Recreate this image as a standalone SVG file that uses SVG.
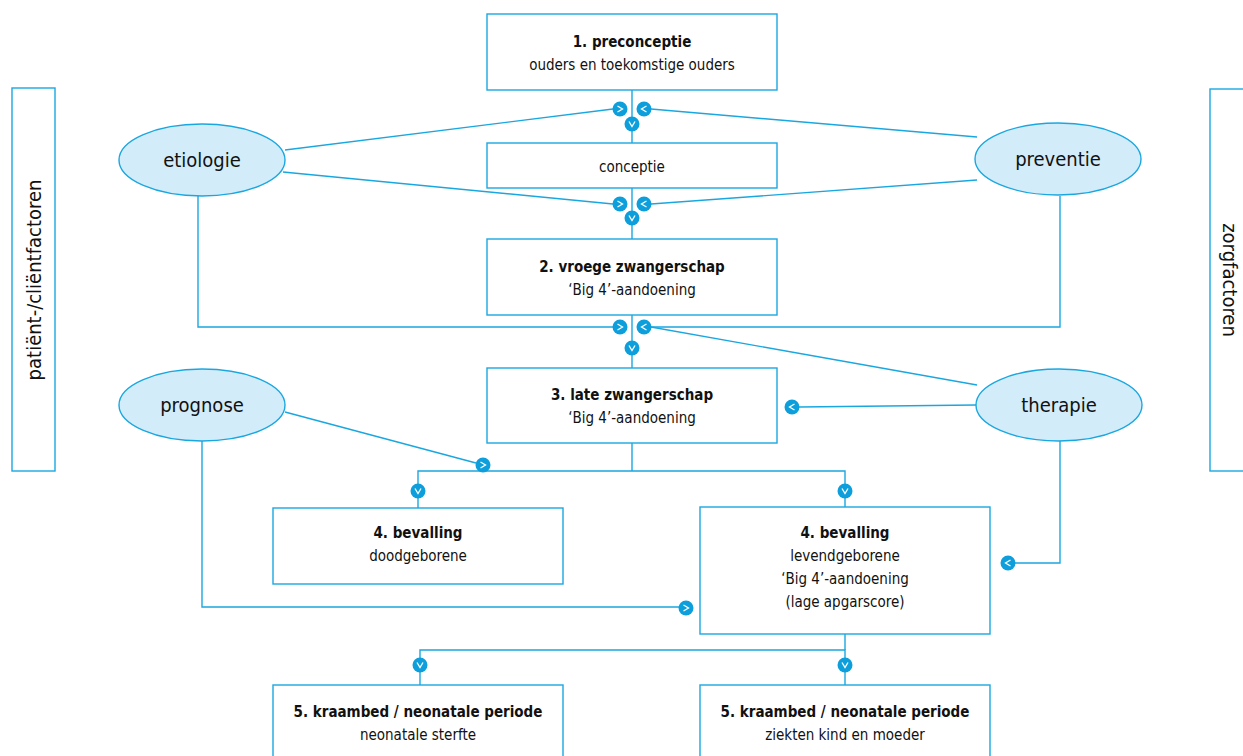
<svg xmlns="http://www.w3.org/2000/svg" xmlns:xlink="http://www.w3.org/1999/xlink" width="1243" height="756" viewBox="0 0 1243 756">
<style>
.box{fill:#fff;stroke:#1aa7e0;stroke-width:1.4}
.ell{fill:#d2ecf9;stroke:#1aa7e0;stroke-width:1.4}
.ln{fill:none;stroke:#1aa7e0;stroke-width:1.4}
text{font-family:"DejaVu Sans Condensed","Liberation Sans Narrow","Liberation Sans",sans-serif;fill:#111;text-anchor:middle}
.t{font-size:15px;font-weight:bold}
.s{font-size:15px}
.e{font-size:20px}
.side{font-size:20px}
.dot{fill:#0d9fdc}
.chev{fill:none;stroke:#fff;stroke-width:1.3}
</style>
<defs>
<g id="ar"><circle class="dot" r="7.5"/><polyline class="chev" points="-2.5,-3 2.5,0 -2.5,3"/></g>
<g id="al"><circle class="dot" r="7.5"/><polyline class="chev" points="2.5,-3 -2.5,0 2.5,3"/></g>
<g id="ad"><circle class="dot" r="7.5"/><polyline class="chev" points="-3,-2.5 0,2.5 3,-2.5"/></g>
</defs>

<g id="connectors">
<line class="ln" x1="632" y1="90" x2="632" y2="143"/>
<line class="ln" x1="285" y1="150" x2="613" y2="109"/>
<line class="ln" x1="977" y1="137" x2="651" y2="109"/>
<line class="ln" x1="632" y1="188" x2="632" y2="239"/>
<line class="ln" x1="283" y1="172" x2="613" y2="204"/>
<line class="ln" x1="977" y1="180" x2="651" y2="204"/>
<line class="ln" x1="632" y1="315" x2="632" y2="368"/>
<polyline class="ln" points="198,196 198,327 613,327"/>
<polyline class="ln" points="1060,196 1060,327 651,327"/>
<line class="ln" x1="977" y1="385" x2="651" y2="327"/>
<line class="ln" x1="976" y1="405" x2="799" y2="407"/>
<polyline class="ln" points="632,443 632,471"/>
<polyline class="ln" points="418,508 418,471 845,471 845,507"/>
<line class="ln" x1="285" y1="412" x2="476" y2="463"/>
<polyline class="ln" points="202,441 202,607 679,607"/>
<polyline class="ln" points="1060,441 1060,563 1015,563"/>
<line class="ln" x1="845" y1="634" x2="845" y2="650"/>
<polyline class="ln" points="420,685 420,650 845,650 845,685"/>
<use xlink:href="#ar" x="620" y="109"/>
<use xlink:href="#al" x="644" y="109"/>
<use xlink:href="#ad" x="632" y="124"/>
<use xlink:href="#ar" x="620" y="204"/>
<use xlink:href="#al" x="644" y="204"/>
<use xlink:href="#ad" x="632" y="218"/>
<use xlink:href="#ar" x="620" y="327"/>
<use xlink:href="#al" x="644" y="327"/>
<use xlink:href="#ad" x="632" y="348"/>
<use xlink:href="#al" x="792" y="407"/>
<use xlink:href="#ar" x="483" y="465"/>
<use xlink:href="#ad" x="418" y="491"/>
<use xlink:href="#ad" x="845" y="491"/>
<use xlink:href="#ar" x="686" y="608"/>
<use xlink:href="#al" x="1008" y="563"/>
<use xlink:href="#ad" x="420" y="665"/>
<use xlink:href="#ad" x="845" y="665"/>
</g>

<g id="side-left"><rect class="box" x="12" y="88" width="43" height="383"/><text class="side" transform="translate(41,280) rotate(-90)">patiënt-/cliëntfactoren</text></g>
<g id="side-right"><rect class="box" x="1210" y="89" width="43" height="382"/><text class="side" transform="translate(1223,280) rotate(90)">zorgfactoren</text></g>

<g id="n1"><rect class="box" x="487" y="14" width="290" height="76"/><text class="t" x="632" y="47">1. preconceptie</text><text class="s" x="632" y="70">ouders en toekomstige ouders</text></g>
<g id="nc"><rect class="box" x="487" y="143" width="290" height="45"/><text class="s" x="632" y="172">conceptie</text></g>
<g id="n2"><rect class="box" x="487" y="239" width="290" height="76"/><text class="t" x="632" y="272">2. vroege zwangerschap</text><text class="s" x="632" y="295">‘Big 4’-aandoening</text></g>
<g id="n3"><rect class="box" x="487" y="368" width="290" height="75"/><text class="t" x="632" y="400">3. late zwangerschap</text><text class="s" x="632" y="423">‘Big 4’-aandoening</text></g>
<g id="n4a"><rect class="box" x="273" y="508" width="290" height="76"/><text class="t" x="418" y="538">4. bevalling</text><text class="s" x="418" y="561">doodgeborene</text></g>
<g id="n4b"><rect class="box" x="700" y="507" width="290" height="127"/><text class="t" x="845" y="538">4. bevalling</text><text class="s" x="845" y="561">levendgeborene</text><text class="s" x="845" y="584">‘Big 4’-aandoening</text><text class="s" x="845" y="607">(lage apgarscore)</text></g>
<g id="n5a"><rect class="box" x="273" y="685" width="290" height="90"/><text class="t" x="418" y="717">5. kraambed / neonatale periode</text><text class="s" x="418" y="740">neonatale sterfte</text></g>
<g id="n5b"><rect class="box" x="700" y="685" width="290" height="90"/><text class="t" x="845" y="717">5. kraambed / neonatale periode</text><text class="s" x="845" y="740">ziekten kind en moeder</text></g>

<g id="etiologie"><ellipse class="ell" cx="202" cy="160" rx="83" ry="36"/><text class="e" x="202" y="167">etiologie</text></g>
<g id="preventie"><ellipse class="ell" cx="1058" cy="159" rx="83" ry="36"/><text class="e" x="1058" y="166">preventie</text></g>
<g id="prognose"><ellipse class="ell" cx="202" cy="405" rx="83" ry="36"/><text class="e" x="202" y="412">prognose</text></g>
<g id="therapie"><ellipse class="ell" cx="1059" cy="405" rx="83" ry="36"/><text class="e" x="1059" y="412">therapie</text></g>
</svg>
